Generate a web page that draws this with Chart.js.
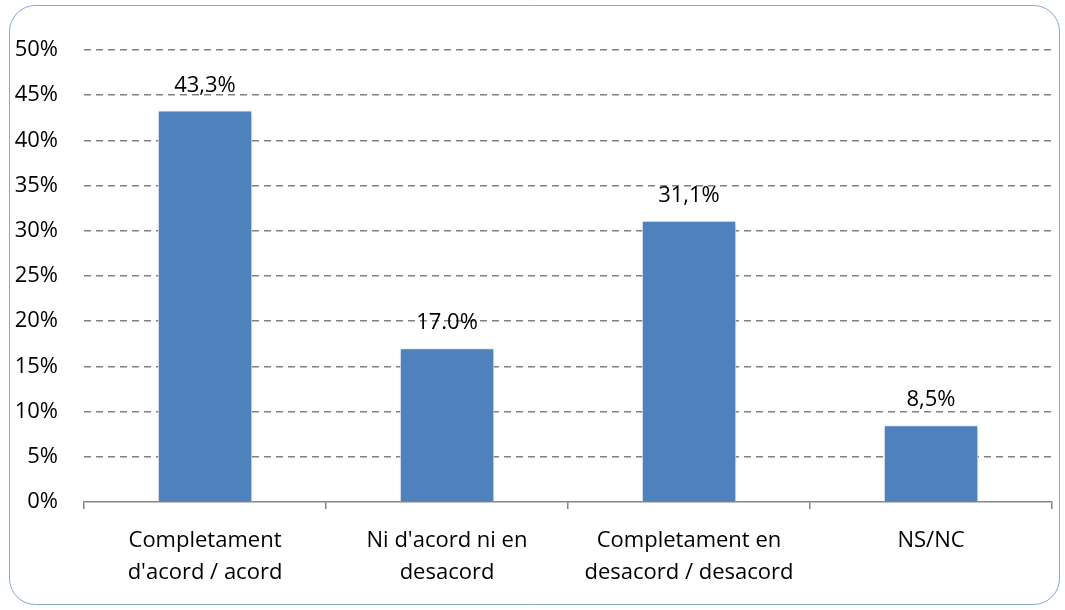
<!DOCTYPE html>
<html>
<head>
<meta charset="utf-8">
<script src="https://cdn.jsdelivr.net/npm/chart.js@4"></script>
<style>
  html, body { margin: 0; padding: 0; background: #fff; }
  #wrap { width: 1065px; height: 610px; }
</style>
</head>
<body>
<div id="wrap"><canvas id="myChart" width="1065" height="610"></canvas></div>
<script>
const categories = [
  ['Completament', "d'acord / acord"],
  ["Ni d'acord ni en", 'desacord'],
  ['Completament en', 'desacord / desacord'],
  'NS/NC'
];
const values = [43.3, 17.0, 31.1, 8.5];
const valueLabels = ['43,3%', '17.0%', '31,1%', '8,5%'];
const yTicks = [0, 5, 10, 15, 20, 25, 30, 35, 40, 45, 50];

const FONT = '"Open Sans", "Liberation Sans", sans-serif';

// rounded frame round the whole chart
const framePlugin = {
  id: 'frame',
  beforeDraw(chart) {
    const ctx = chart.ctx;
    ctx.save();
    ctx.fillStyle = '#fff';
    ctx.fillRect(0, 0, chart.width, chart.height);
    ctx.beginPath();
    ctx.roundRect(9.5, 5.5, 1050, 599, 26);
    ctx.strokeStyle = '#85a7d2';
    ctx.lineWidth = 1;
    ctx.stroke();
    ctx.restore();
  }
};

// soft shadow under the bars
const shadowPlugin = {
  id: 'barShadow',
  beforeDatasetDraw(chart) {
    const ctx = chart.ctx;
    ctx.save();
    ctx.shadowColor = 'rgba(0,0,0,0.25)';
    ctx.shadowBlur = 4;
    ctx.shadowOffsetX = 1;
    ctx.shadowOffsetY = 1;
  },
  afterDatasetDraw(chart) {
    chart.ctx.restore();
  }
};

// value text above each bar
const labelPlugin = {
  id: 'valueLabels',
  afterDatasetsDraw(chart) {
    const ctx = chart.ctx;
    const meta = chart.getDatasetMeta(0);
    ctx.save();
    ctx.font = '22px ' + FONT;
    ctx.fillStyle = '#000';
    ctx.textAlign = 'center';
    ctx.textBaseline = 'alphabetic';
    meta.data.forEach((bar, i) => {
      ctx.fillText(valueLabels[i], bar.x, bar.y - 19);
    });
    ctx.restore();
  }
};

new Chart(document.getElementById('myChart').getContext('2d'), {
  type: 'bar',
  data: {
    labels: categories,
    datasets: [{
      data: values,
      backgroundColor: '#4f81bd',
      borderColor: '#ffffff',
      borderWidth: 1,
      categoryPercentage: 1,
      barPercentage: 0.39
    }]
  },
  options: {
    responsive: false,
    animation: false,
    layout: { padding: { left: 0, right: 13, top: 50, bottom: 0 } },
    plugins: {
      legend: { display: false },
      tooltip: { enabled: false }
    },
    scales: {
      y: {
        min: 0,
        max: 50,
        afterFit(scale) { scale.width = 84; },
        afterBuildTicks(scale) { scale.ticks = yTicks.map(v => ({ value: v })); },
        ticks: {
          padding: 26,
          color: '#000',
          font: { family: FONT, size: 22 },
          callback: v => v + '%'
        },
        grid: {
          drawTicks: false,
          color: ctx => ctx.tick.value === 0 ? 'rgba(0,0,0,0)' : '#808080',
          lineWidth: 1.5
        },
        border: { display: false, dash: [7, 5] }
      },
      x: {
        afterFit(scale) { scale.height = 108; },
        ticks: {
          padding: 16,
          color: '#000',
          maxRotation: 0,
          font: { family: FONT, size: 22, lineHeight: 1.45 }
        },
        grid: {
          offset: true,
          drawOnChartArea: false,
          drawTicks: true,
          tickLength: 7,
          color: '#868686',
          lineWidth: 1.5
        },
        border: { display: true, color: '#868686', width: 1.5 }
      }
    }
  },
  plugins: [framePlugin, shadowPlugin, labelPlugin]
});
</script>
</body>
</html>
